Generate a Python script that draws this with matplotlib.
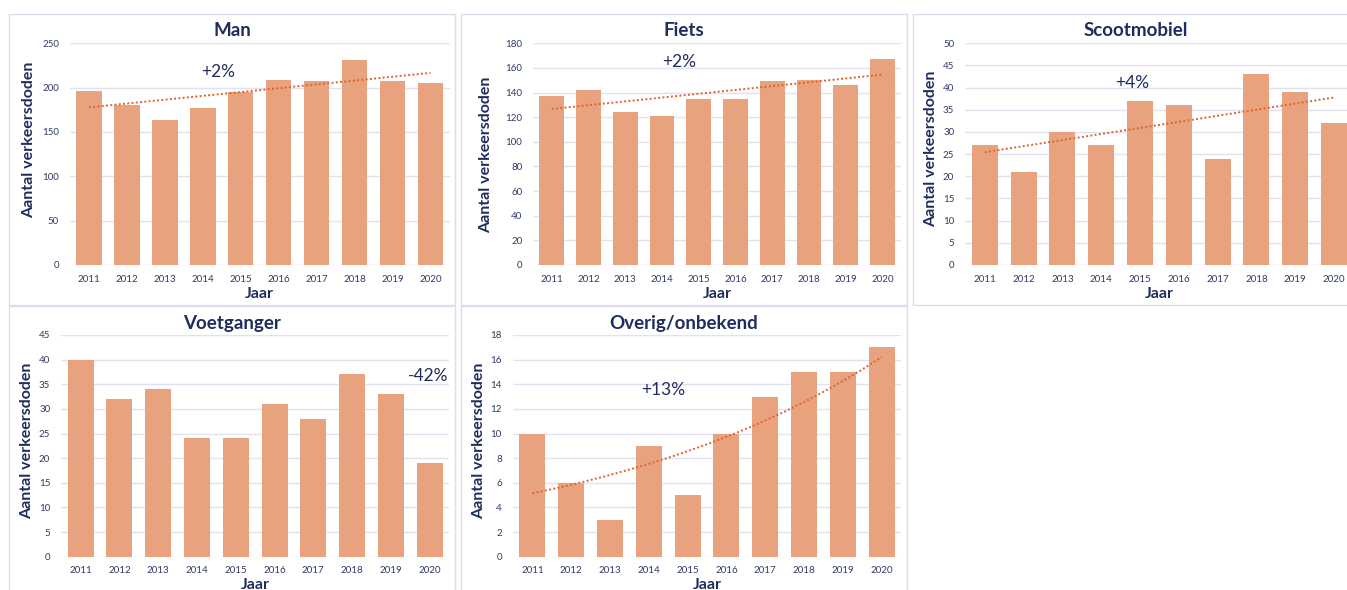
import numpy as np
import matplotlib.pyplot as plt
from matplotlib.patches import Rectangle

plt.rcParams['font.family'] = ['Lato', 'DejaVu Sans']

years = ['2011', '2012', '2013', '2014', '2015', '2016', '2017', '2018', '2019', '2020']

man = [196, 180, 164, 177, 195, 209, 208, 231, 207, 205]
fiets = [137, 142, 124, 121, 135, 135, 149, 150, 146, 167]
scootmobiel = [27, 21, 30, 27, 37, 36, 24, 43, 39, 32]
voetganger = [40, 32, 34, 24, 24, 31, 28, 37, 33, 19]
overig = [10, 6, 3, 9, 5, 10, 13, 15, 15, 17]

titles = ['Man', 'Fiets', 'Scootmobiel', 'Voetganger', 'Overig/onbekend']
changes = ['+2%', '+2%', '+4%', '-42%', '+13%']
trend_kind = ['linear', 'linear', 'linear', None, 'exp']
y_max = [250, 180, 50, 45, 18]
y_step = [50, 20, 5, 5, 2]

BAR = '#E8A37E'
TREND = '#E0622B'
NAVY = '#1F2D5E'
TICK = '#2E3A66'
GRID = '#E1E1F2'
FRAME = '#DCDCEE'

W, H = 1347, 590
fig = plt.figure(figsize=(W / 100, H / 100), dpi=100)
fig.patch.set_facecolor('white')


def px_axes(x0, x1, ytop, ybot):
    return fig.add_axes([x0 / W, 1 - ybot / H, (x1 - x0) / W, (ybot - ytop) / H])


def px_box(x0, x1, ytop, ybot):
    fig.patches.append(Rectangle((x0 / W, 1 - ybot / H), (x1 - x0) / W, (ybot - ytop) / H,
                                 transform=fig.transFigure, fill=False,
                                 edgecolor=FRAME, linewidth=1.0))


# plot areas (pixels): x0, x1, top, bottom
areas = [(70, 449.5, 43.3, 265), (533.4, 900.9, 43.3, 265), (965.3, 1353.4, 43.3, 265),
         (61.3, 449, 335, 556.7), (513, 901, 335, 556.7)]
# outer frames
frames = [(9, 455, 14, 305), (461, 907, 14, 305), (913, 1360, 14, 305),
          (9, 455, 306, 600), (461, 907, 306, 600)]
# title centre, y-label centre
title_pos = [(232, 31), (684, 31), (1136, 31), (232, 323), (684, 323)]
ylab_x = [29, 486, 931, 27, 479]
ylab_y = [0.566, 0.497, 0.523, 0.524, 0.524]
# change label position in data units
note_pos = [(3.4, 218), (3.46, 165), (3.8, 41), (8.96, 36.7), (3.36, 13.5)]

series = [man, fiets, scootmobiel, voetganger, overig]
x = np.arange(len(years))

for i, vals in enumerate(series):
    px_box(*frames[i])
    ax = px_axes(*areas[i])
    ax.set_facecolor('none')
    ax.bar(x, vals, width=0.67, color=BAR, zorder=2)

    if trend_kind[i] == 'linear':
        k, b = np.polyfit(x, vals, 1)
        ax.plot(x, k * x + b, linestyle=(0, (1, 1.2)), color=TREND, lw=1.4, zorder=3)
    elif trend_kind[i] == 'exp':
        k, b = np.polyfit(x, np.log(vals), 1)
        xs = np.linspace(0, 9, 100)
        ax.plot(xs, np.exp(k * xs + b), linestyle=(0, (1, 1.2)), color=TREND, lw=1.4, zorder=3)

    ax.set_xlim(-0.5, 9.5)
    ax.set_ylim(0, y_max[i])
    ax.set_yticks(np.arange(0, y_max[i] + 1, y_step[i]))
    ax.set_xticks(x)
    ax.set_xticklabels(years)
    ax.tick_params(axis='both', length=0, labelsize=7, labelcolor=TICK)
    ax.tick_params(axis='x', pad=7)
    ax.tick_params(axis='y', pad=8)
    ax.grid(axis='y', color=GRID, lw=1, zorder=0)
    ax.set_axisbelow(True)
    for s in ax.spines.values():
        s.set_visible(False)

    ax.set_xlabel('Jaar', fontsize=11.5, fontweight='bold', color=NAVY, labelpad=2)
    ax.set_ylabel('Aantal verkeersdoden', fontsize=11.5, fontweight='bold', color=NAVY)
    x0, x1 = areas[i][0], areas[i][1]
    ax.yaxis.set_label_coords((ylab_x[i] - x0) / (x1 - x0), ylab_y[i])
    ax.yaxis.label.set_va('center')

    nx, ny = note_pos[i]
    ax.text(nx, ny, changes[i], fontsize=12.5, color=NAVY, ha='center', va='center')

    tx, ty = title_pos[i]
    fig.text(tx / W, 1 - ty / H, titles[i], fontsize=13.5, fontweight='bold',
             color=NAVY, ha='center', va='center')

fig.savefig('out.png', dpi=100)
